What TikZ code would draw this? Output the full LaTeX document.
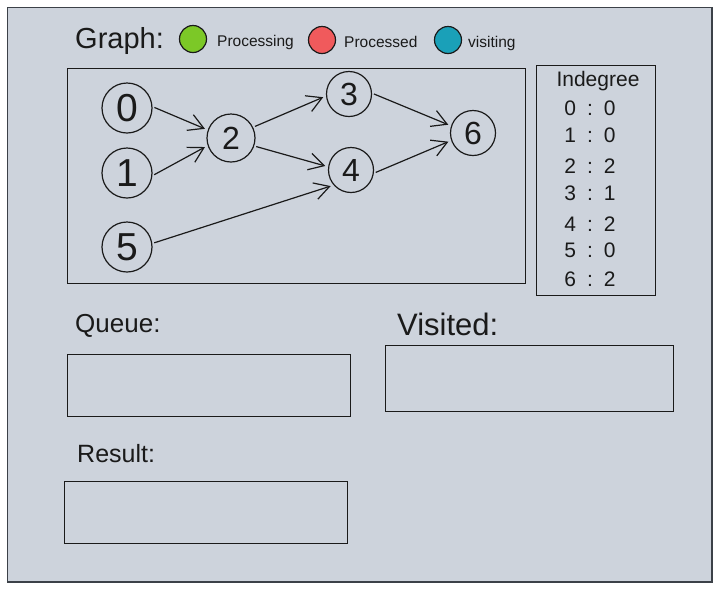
\documentclass[tikz,border=0pt]{standalone}
\usepackage{fontspec}
\setmainfont{Liberation Sans}
\usetikzlibrary{arrows.meta}

\definecolor{panel}{HTML}{CDD3DC}
\definecolor{rim}{HTML}{3C4148}
\definecolor{ink}{HTML}{1A1A1A}
\definecolor{procgreen}{HTML}{7CC827}
\definecolor{procred}{HTML}{F05A5C}
\definecolor{visitblue}{HTML}{1AA0B8}

\begin{document}
\begin{tikzpicture}[x=1pt,y=-1pt,
  vertex/.style={circle,draw=ink,line width=1.2pt,inner sep=0pt,text=ink},
  srcv/.style={vertex,minimum size=50pt,font=\fontsize{39}{39}\selectfont},
  midv/.style={vertex,minimum size=45pt,font=\fontsize{32}{32}\selectfont},
  link/.style={draw=ink,line width=1.2pt,-{Straight Barb[length=15pt,width=17pt]},shorten <=2pt,shorten >=3pt},
  dot/.style={circle,draw=ink,line width=1.2pt,minimum size=27pt,inner sep=0pt},
  lbl/.style={anchor=base west,inner sep=0pt,text=ink},
  box/.style={draw=ink,line width=1pt}]
\useasboundingbox (0,0) rectangle (720,590);
\draw[rim,fill=panel,line width=1.5pt] (7.5,7.5) rectangle (712,582);

% legend
\node[lbl,font=\fontsize{29}{29}\selectfont] (graph) at (75,48) {Graph:};
\node[dot,fill=procgreen] (green) at (193,39) {};
\node[lbl,font=\fontsize{15.5}{16}\selectfont] (processing) at (217,46) {Processing};
\node[dot,fill=procred] (red) at (322,40) {};
\node[lbl,font=\fontsize{15.5}{16}\selectfont] (processed) at (344,47) {Processed};
\node[dot,fill=visitblue] (blue) at (448,40) {};
\node[lbl,font=\fontsize{15.5}{16}\selectfont] (visiting) at (468,47) {visiting};

% graph
\draw[box] (67,68) rectangle (525,283);
\node[srcv] (n0) at (127,108) {0};
\node[srcv] (n1) at (127,173) {1};
\node[srcv] (n5) at (127,247) {5};
\node[midv,minimum size=48pt] (n2) at (231,138) {2};
\node[midv] (n3) at (349,94) {3};
\node[midv] (n4) at (351,170) {4};
\node[midv] (n6) at (473,133) {6};
\draw[link] (n0.3) -- (n2.161);
\draw[link] (n1.-6) -- (n2.198);
\draw[link] (n2.26) -- (n3.185);
\draw[link] (n2.-19) -- (n4.172);
\draw[link] (n5.8) -- (n4.221);
\draw[link] (n3.2) -- (n6.162);
\draw[link] (n4.-8) -- (n6.199);

% indegree table
\draw[box] (536,65) rectangle (655,295);
\node[anchor=base,inner sep=0pt,text=ink,font=\fontsize{21}{21}\selectfont] (indeg) at (598,86) {Indegree};
\foreach \k/\v/\y in {0/0/108,1/0/135,2/2/166,3/1/193,4/2/224,5/0/250,6/2/279}
  \node[inner sep=0pt,text=ink,font=\fontsize{21}{21}\selectfont] (deg\k) at (590,\y) {\k\hspace{11pt}:\hspace{11pt}\v};

% queue, visited, result
\node[lbl,font=\fontsize{26}{26}\selectfont] (queue) at (75,332) {Queue:};
\draw[box] (67,354) rectangle (350,416);
\node[lbl,font=\fontsize{31}{31}\selectfont] (visited) at (397,335) {Visited:};
\draw[box] (385,345) rectangle (673,411);
\node[lbl,font=\fontsize{25}{25}\selectfont] (result) at (77,462) {Result:};
\draw[box] (64,481) rectangle (347,543);
\end{tikzpicture}
\end{document}
